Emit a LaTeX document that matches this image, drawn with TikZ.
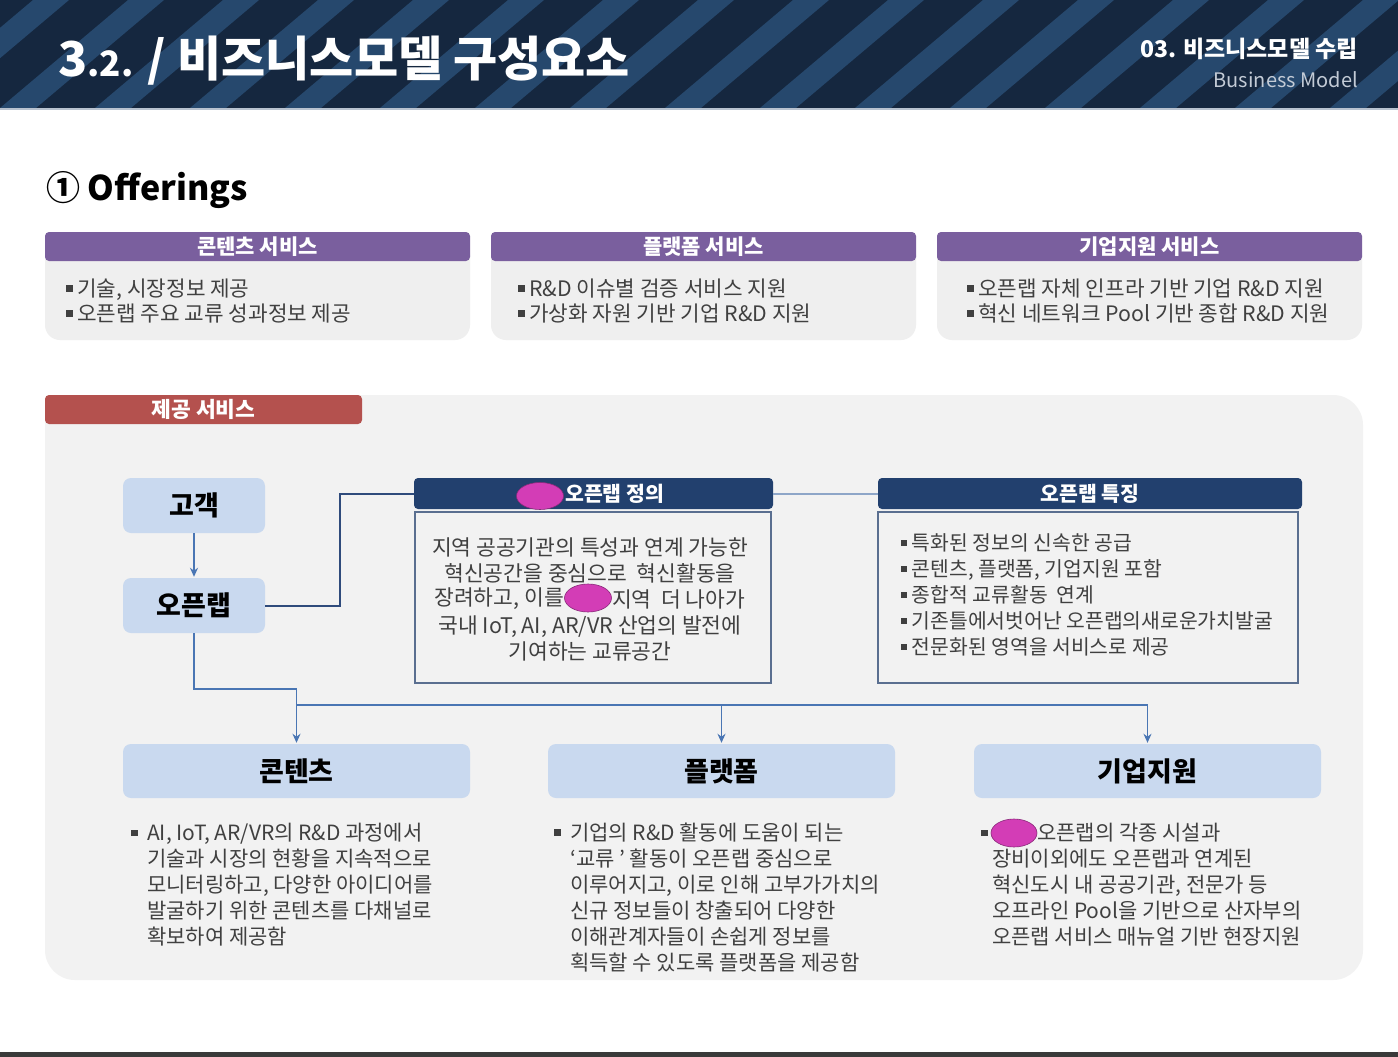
\documentclass[tikz,border=0pt]{standalone}
\usepackage{fontspec}
\setmainfont{Noto Sans CJK KR}
\usetikzlibrary{arrows.meta,shapes.geometric}
\definecolor{bandbg}{HTML}{15273F}
\definecolor{bandstripe}{HTML}{26486D}
\definecolor{bandedge}{HTML}{B8C2CF}
\definecolor{bottomrule}{HTML}{3A3A3A}
\definecolor{purplehd}{HTML}{7A5F9E}
\definecolor{redhd}{HTML}{B4514E}
\definecolor{navyhd}{HTML}{22406E}
\definecolor{lightbox}{HTML}{C9D9EF}
\definecolor{sectbg}{HTML}{F2F2F2}
\definecolor{cardbg}{HTML}{EFEFEF}
\definecolor{bodytxt}{HTML}{404040}
\definecolor{conblue}{HTML}{4A76B4}
\definecolor{connavy}{HTML}{2F4B7C}
\definecolor{conlight}{HTML}{8EA6C8}
\definecolor{boxline}{HTML}{5A6F90}
\definecolor{redact}{HTML}{D33DB6}
\definecolor{redactline}{HTML}{8A2A7A}
\definecolor{subgray}{HTML}{C3CBD6}
\newcommand\sqbul{\rule[0.22em]{0.3em}{0.3em}}
\begin{document}
\begin{tikzpicture}[x=1pt,y=-1pt,
  cardbody/.style={rectangle, rounded corners=15pt, fill=cardbg, minimum width=425pt, minimum height=100pt, inner sep=0pt},
  cardhead/.style={rectangle, rounded corners=4pt, fill=purplehd, text=white, minimum width=425pt, minimum height=29pt, inner sep=0pt, font=\bfseries\fontsize{21}{24}\selectfont},
  cardtext/.style={anchor=west, align=left, text=bodytxt, inner sep=0pt, font=\fontsize{21.3}{25}\selectfont},
  bluebox/.style={rectangle, rounded corners=8pt, fill=lightbox, inner sep=0pt, font=\bfseries\fontsize{27}{30}\selectfont, text=black},
  navyhead/.style={rectangle, rounded corners=4pt, fill=navyhd, text=white, minimum height=31pt, inner sep=0pt, font=\bfseries\fontsize{20.5}{24}\selectfont},
  infobody/.style={rectangle, draw=boxline, line width=1.5pt, fill=sectbg, minimum height=171pt, inner sep=0pt},
  desc/.style={text=bodytxt, inner sep=0pt, font=\fontsize{21}{26}\selectfont},
  blueline/.style={draw=conblue, line width=1.8pt},
  bluearrow/.style={blueline, -{Stealth[length=9pt,width=8pt]}, shorten >=1pt},
  redactmark/.style={ellipse, fill=redact, draw=redactline, line width=0.6pt, inner sep=0pt}
]
\useasboundingbox (0,0) rectangle (1398,1057);
\fill[white] (0,0) rectangle (1398,1057);
% header band
\begin{scope}
  \clip (0,0) rectangle (1398,108);
  \fill[bandbg] (0,0) rectangle (1398,108);
  \foreach \i in {-3,...,17} {
    \fill[bandstripe] ({\i*95},108) -- ({\i*95+36},108) -- ({\i*95+36+128},0) -- ({\i*95+128},0) -- cycle;
  }
\end{scope}
\fill[bandedge] (0,108) rectangle (1398,110);
\node[anchor=base west, text=white, inner sep=0pt, font=\bfseries\fontsize{48}{52}\selectfont] (title) at (58,77)
  {3{\fontsize{35}{40}\selectfont .2.} / 비즈니스모델 구성요소};
\node[anchor=base east, text=white, inner sep=0pt, font=\bfseries\fontsize{23}{26}\selectfont] (chap) at (1358,58) {03. 비즈니스모델 수립};
\node[anchor=base east, text=subgray, inner sep=0pt, font=\fontsize{20}{24}\selectfont] (chapen) at (1358,88) {Business Model};
% bottom rule
\fill[bottomrule] (0,1052) rectangle (1398,1057);
% Offerings
\node[anchor=west, inner sep=0pt, font=\bfseries\fontsize{34}{40}\selectfont] (off) at (46,190) {① Offerings};
% cards
\node[cardbody] (c1b) at (257.5,290) {};
\node[cardhead] (c1h) at (257.5,246.5) {콘텐츠 서비스};
\node[cardtext] (c1t) at (66,301) {\sqbul\ 기술, 시장정보 제공\\\sqbul\ 오픈랩 주요 교류 성과정보 제공};
\node[cardbody] (c2b) at (703.5,290) {};
\node[cardhead] (c2h) at (703.5,246.5) {플랫폼 서비스};
\node[cardtext] (c2t) at (518,301) {\sqbul\ R\&D 이슈별 검증 서비스 지원\\\sqbul\ 가상화 자원 기반 기업 R\&D 지원};
\node[cardbody] (c3b) at (1149.5,290) {};
\node[cardhead] (c3h) at (1149.5,246.5) {기업지원 서비스};
\node[cardtext] (c3t) at (967,301) {\sqbul\ 오픈랩 자체 인프라 기반 기업 R\&D 지원\\\sqbul\ 혁신 네트워크 Pool 기반 종합 R\&D 지원};
% section
\node[rectangle, rounded corners=30pt, fill=sectbg, minimum width=1318pt, minimum height=585pt, inner sep=0pt] (sect) at (704,687.5) {};
\node[rectangle, rounded corners=4pt, fill=redhd, text=white, minimum width=317pt, minimum height=29pt, inner sep=0pt, font=\bfseries\fontsize{21.5}{24}\selectfont] (secth) at (203.5,409.5) {제공 서비스};
% left boxes
\node[bluebox, minimum width=142pt, minimum height=55pt] (cust) at (194,505.5) {고객};
\node[bluebox, minimum width=142pt, minimum height=55pt] (olab) at (194,605.5) {오픈랩};
% definition
\node[navyhead, minimum width=359pt] (defh) at (593.5,493.5) {};
\node[anchor=west, text=white, inner sep=0pt, font=\bfseries\fontsize{20.5}{24}\selectfont] (defht) at (565,493.5) {오픈랩 정의};
\node[infobody, minimum width=356pt] (defb) at (593,597.5) {};
\node[desc, align=center, font=\fontsize{21.5}{26}\selectfont] (deft1) at (590,560.5) {지역 공공기관의 특성과 연계 가능한\\혁신공간을 중심으로\ \ 혁신활동을};
\node[desc, anchor=east, font=\fontsize{21.5}{26}\selectfont] (deft2) at (564,599) {장려하고, 이를};
\node[desc, anchor=west, font=\fontsize{21.5}{26}\selectfont] (deft3) at (612,599) {지역\ \ 더 나아가};
\node[desc, align=center, font=\fontsize{21.5}{26}\selectfont] (deft4) at (590,638) {국내 IoT, AI, AR/VR 산업의 발전에\\기여하는 교류공간};
% features
\node[navyhead, minimum width=424pt] (feah) at (1090,493.5) {오픈랩 특징};
\node[infobody, minimum width=420pt] (feab) at (1088,597.5) {};
\node[desc, anchor=west, align=left, font=\fontsize{20.4}{26}\selectfont] (feat) at (901,595) {\sqbul\ 특화된 정보의 신속한 공급\\\sqbul\ 콘텐츠, 플랫폼, 기업지원 포함\\\sqbul\ 종합적 교류활동\ \ 연계\\\sqbul\ 기존틀에서벗어난 오픈랩의새로운가치발굴\\\sqbul\ 전문화된 영역을 서비스로 제공};
% bottom boxes
\node[bluebox, minimum width=347pt, minimum height=54pt] (cont) at (296.5,771) {콘텐츠};
\node[bluebox, minimum width=347pt, minimum height=54pt] (plat) at (721.5,771) {플랫폼};
\node[bluebox, minimum width=347pt, minimum height=54pt] (corp) at (1147.5,771) {기업지원};
\node[desc, anchor=west, align=left] (contt) at (147,885) {\llap{\sqbul\ \ }AI, IoT, AR/VR의 R\&D 과정에서\\기술과 시장의 현황을 지속적으로\\모니터링하고, 다양한 아이디어를\\발굴하기 위한 콘텐츠를 다채널로\\확보하여 제공함};
\node[desc, anchor=west, align=left] (platt) at (570,897.5) {\llap{\sqbul\ \ }기업의 R\&D 활동에 도움이 되는\\‘교류 ’ 활동이 오픈랩 중심으로\\이루어지고, 이로 인해 고부가가치의\\신규 정보들이 창출되어 다양한\\이해관계자들이 손쉽게 정보를\\획득할 수 있도록 플랫폼을 제공함};
\node[desc, anchor=west, align=left] (corpt) at (992,885) {\llap{\sqbul\ }\hspace*{45pt}오픈랩의 각종 시설과\\장비이외에도 오픈랩과 연계된\\혁신도시 내 공공기관, 전문가 등\\오프라인 Pool을 기반으로 산자부의\\오픈랩 서비스 매뉴얼 기반 현장지원};
% redaction marks
\node[redactmark, minimum width=47pt, minimum height=27pt] (r1) at (540,496) {};
\node[redactmark, minimum width=47pt, minimum height=28pt] (r2) at (588,598) {};
\node[redactmark, minimum width=46pt, minimum height=28pt] (r3) at (1014,833) {};
% connectors
\draw[bluearrow] (cust.south) -- (olab.north);
\draw[draw=connavy, line width=2pt] (olab.east) -- ++(75,0) |- (defh.west);
\draw[draw=conlight, line width=2pt] (defh.east) -- (feah.west);
\draw[bluearrow] (olab.south) -- ++(0,56) -| (cont.north);
\coordinate (bus) at (296.5,705);
\draw[bluearrow] (bus) -| (corp.north);
\draw[bluearrow] (plat.north |- bus) -- (plat.north);
\end{tikzpicture}
\end{document}
